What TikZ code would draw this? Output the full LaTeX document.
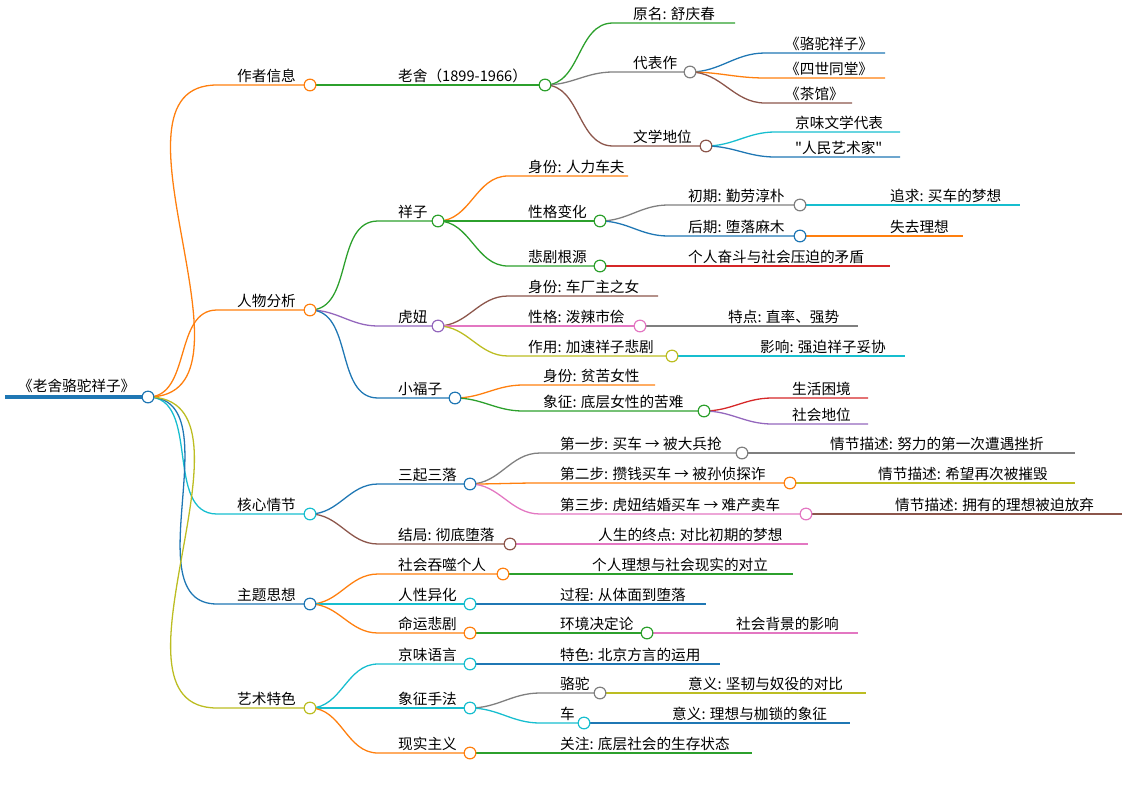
\documentclass[tikz,border=0pt]{standalone}
\usepackage{fontspec}
\setmainfont[Ligatures=TeXReset]{Noto Sans CJK SC}
\definecolor{cblue}{HTML}{1F77B4}
\definecolor{corange}{HTML}{FF7F0E}
\definecolor{cgreen}{HTML}{2CA02C}
\definecolor{cred}{HTML}{D62728}
\definecolor{cpurple}{HTML}{9467BD}
\definecolor{cbrown}{HTML}{8C564B}
\definecolor{cpink}{HTML}{E377C2}
\definecolor{cgray}{HTML}{7F7F7F}
\definecolor{colive}{HTML}{BCBD22}
\definecolor{ccyan}{HTML}{17BECF}
\tikzset{
  edge/.style={line width=1.1pt},
  txt/.style={font=\fontsize{12.5}{14}\selectfont, inner xsep=0pt, inner ysep=1.5pt, anchor=south west},
  knob/.style={circle, fill=white, line width=1pt, minimum size=10pt, inner sep=0pt}
}
% name, parent, text x, y, end x, colour, text
\newcommand\mm[7]{%
  \coordinate (#1-s) at (#3-20,#4);
  \draw[edge,#6] (#2-e) to[out=0,in=180] (#1-s) -- (#5,#4) coordinate (#1-e);
  \node[txt] (#1) at (#3,#4) {#7};}
\newcommand\knob[2]{\node[knob,draw=#2] (#1-k) at (#1-e) {};}
\begin{document}
\begin{tikzpicture}[x=0.03cm,y=-0.03cm]
\useasboundingbox (0,0) rectangle (1127,785);
% root
\draw[cblue, line width=3pt] (5,397) -- (148,397) coordinate (root-e);
\node[txt] (root) at (18,395) {《老舍骆驼祥子》};
% level 1
\mm{auth}{root}{237}{85}{310}{corange}{作者信息}
\mm{char}{root}{237}{310}{310}{corange}{人物分析}
\mm{plot}{root}{237}{514}{310}{ccyan}{核心情节}
\mm{theme}{root}{237}{604}{310}{cblue}{主题思想}
\mm{art}{root}{237}{708}{310}{colive}{艺术特色}
\knob{root}{cblue}
% author
\mm{lao}{auth}{398}{85}{545}{cgreen}{老舍（1899-1966）}
\mm{orig}{lao}{633}{23}{735}{cgreen}{原名: 舒庆春}
\mm{works}{lao}{633}{72}{690}{cgray}{代表作}
\mm{w1}{works}{785}{53}{885}{cblue}{《骆驼祥子》}
\mm{w2}{works}{785}{78}{885}{corange}{《四世同堂》}
\mm{w3}{works}{785}{103}{852}{cbrown}{《茶馆》}
\knob{works}{cgray}
\mm{status}{lao}{633}{146}{706}{cbrown}{文学地位}
\mm{s1}{status}{795}{132}{900}{ccyan}{京味文学代表}
\mm{s2}{status}{795}{157}{900}{cblue}{\symbol{34}人民艺术家\symbol{34}}
\knob{status}{cbrown}
\knob{lao}{cgreen}
% characters
\mm{xz}{char}{398}{221}{438}{cgreen}{祥子}
\mm{xz1}{xz}{528}{176}{628}{corange}{身份: 人力车夫}
\mm{xz2}{xz}{528}{221}{600}{cgreen}{性格变化}
\mm{early}{xz2}{688}{205}{800}{cgray}{初期: 勤劳淳朴}
\mm{early1}{early}{890}{205}{1020}{ccyan}{追求: 买车的梦想}
\knob{early}{cgray}
\mm{late}{xz2}{688}{236}{800}{cblue}{后期: 堕落麻木}
\mm{late1}{late}{890}{236}{963}{corange}{失去理想}
\knob{late}{cblue}
\knob{xz2}{cgreen}
\mm{xz3}{xz}{528}{266}{600}{cgreen}{悲剧根源}
\mm{root3}{xz3}{688}{266}{890}{cred}{个人奋斗与社会压迫的矛盾}
\knob{xz3}{cgreen}
\knob{xz}{cgreen}
\mm{hn}{char}{398}{326}{438}{cpurple}{虎妞}
\mm{hn1}{hn}{528}{296}{658}{cbrown}{身份: 车厂主之女}
\mm{hn2}{hn}{528}{326}{640}{cpink}{性格: 泼辣市侩}
\mm{hn21}{hn2}{728}{326}{858}{cgray}{特点: 直率、强势}
\knob{hn2}{cpink}
\mm{hn3}{hn}{528}{356}{672}{colive}{作用: 加速祥子悲剧}
\mm{hn31}{hn3}{760}{356}{905}{ccyan}{影响: 强迫祥子妥协}
\knob{hn3}{colive}
\knob{hn}{cpurple}
\mm{xf}{char}{398}{398}{455}{cblue}{小福子}
\mm{xf1}{xf}{543}{385}{655}{corange}{身份: 贫苦女性}
\mm{xf2}{xf}{543}{411}{704}{cgreen}{象征: 底层女性的苦难}
\mm{xf21}{xf2}{792}{398}{868}{cred}{生活困境}
\mm{xf22}{xf2}{792}{424}{868}{cpurple}{社会地位}
\knob{xf2}{cgreen}
\knob{xf}{cblue}
\knob{char}{corange}
\knob{auth}{corange}
% plot
\mm{three}{plot}{398}{484}{470}{cblue}{三起三落}
\mm{st1}{three}{560}{453}{742}{cgray}{第一步: 买车 → 被大兵抢}
\mm{st11}{st1}{830}{453}{1075}{cgray}{情节描述: 努力的第一次遭遇挫折}
\knob{st1}{cgray}
\mm{st2}{three}{560}{483}{790}{corange}{第二步: 攒钱买车 → 被孙侦探诈}
\mm{st21}{st2}{878}{483}{1075}{colive}{情节描述: 希望再次被摧毁}
\knob{st2}{corange}
\mm{st3}{three}{560}{514}{806}{cpink}{第三步: 虎妞结婚买车 → 难产卖车}
\mm{st31}{st3}{895}{514}{1122}{cbrown}{情节描述: 拥有的理想被迫放弃}
\knob{st3}{cpink}
\knob{three}{cblue}
\mm{end}{plot}{398}{544}{510}{cbrown}{结局: 彻底堕落}
\mm{end1}{end}{598}{544}{808}{cpink}{人生的终点: 对比初期的梦想}
\knob{end}{cbrown}
\knob{plot}{ccyan}
% theme
\mm{th1}{theme}{398}{574}{503}{corange}{社会吞噬个人}
\mm{th11}{th1}{592}{574}{793}{cgreen}{个人理想与社会现实的对立}
\knob{th1}{corange}
\mm{th2}{theme}{398}{604}{470}{ccyan}{人性异化}
\mm{th21}{th2}{560}{604}{706}{cblue}{过程: 从体面到堕落}
\knob{th2}{ccyan}
\mm{th3}{theme}{398}{633}{470}{corange}{命运悲剧}
\mm{th31}{th3}{560}{633}{647}{cgreen}{环境决定论}
\mm{th311}{th31}{736}{633}{858}{cpink}{社会背景的影响}
\knob{th31}{cgreen}
\knob{th3}{corange}
\knob{theme}{cblue}
% art
\mm{ar1}{art}{398}{664}{470}{ccyan}{京味语言}
\mm{ar11}{ar1}{560}{664}{720}{cblue}{特色: 北京方言的运用}
\knob{ar1}{ccyan}
\mm{ar2}{art}{398}{708}{470}{ccyan}{象征手法}
\mm{camel}{ar2}{560}{693}{600}{cgray}{骆驼}
\mm{camel1}{camel}{688}{693}{866}{colive}{意义: 坚韧与奴役的对比}
\knob{camel}{cgray}
\mm{cart}{ar2}{560}{723}{584}{ccyan}{车}
\mm{cart1}{cart}{672}{723}{850}{cblue}{意义: 理想与枷锁的象征}
\knob{cart}{ccyan}
\knob{ar2}{ccyan}
\mm{ar3}{art}{398}{753}{470}{corange}{现实主义}
\mm{ar31}{ar3}{560}{753}{752}{cgreen}{关注: 底层社会的生存状态}
\knob{ar3}{corange}
\knob{art}{colive}
\end{tikzpicture}
\end{document}
